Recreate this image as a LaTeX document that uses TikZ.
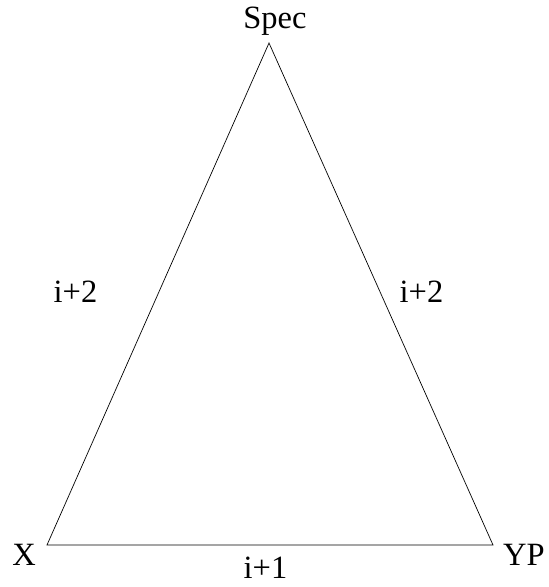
\documentclass[tikz,border=0pt]{standalone}
\usepackage{fontspec}
\setmainfont{Liberation Serif}
\begin{document}
\begin{tikzpicture}[x=1pt,y=-1pt,
  lbl/.style={font=\fontsize{32.5}{36}\selectfont, inner sep=0pt, anchor=base},
  edge/.style={line width=0.7pt, black}]
\useasboundingbox (0,0) rectangle (549,587);
\coordinate (top) at (269,43);
\coordinate (bl) at (47,545);
\coordinate (br) at (493,545);
\draw[edge] (top) -- (bl) -- (br) -- cycle;
\node[lbl] (spec) at (275,28) {Spec};
\node[lbl] (x) at (24,565) {X};
\node[lbl] (yp) at (524,565) {YP};
\node[lbl] (l1) at (75.5,302) {i+2};
\node[lbl] (l2) at (421.5,302) {i+2};
\node[lbl] (l3) at (265.5,578) {i+1};
\end{tikzpicture}
\end{document}
